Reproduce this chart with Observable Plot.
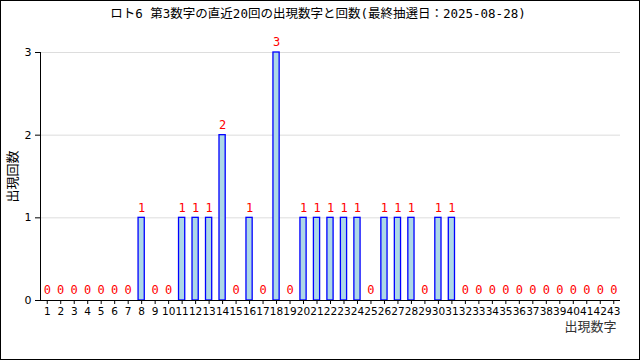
<!DOCTYPE html>
<html><head><meta charset="utf-8">
<script src="https://cdn.jsdelivr.net/npm/d3@7"></script>
<script src="https://cdn.jsdelivr.net/npm/@observablehq/plot@0.6"></script>
<style>
html,body{margin:0;padding:0;background:#fff;}
#wrap{position:relative;width:640px;height:360px;overflow:hidden;}
#border{position:absolute;left:0;top:0;width:638px;height:358px;border:1px solid #000;pointer-events:none;}
#title{position:absolute;left:0;top:3px;width:636px;text-align:center;font:12.5px "DejaVu Sans Mono","Noto Sans CJK JP",monospace;color:#000;white-space:nowrap;}
#chart{position:absolute;left:0;top:0;}
</style></head>
<body><div id="wrap"><div id="chart"></div><div id="title"></div><div id="border"></div></div>
<script>
const titleText = "ロト6 第3数字の直近20回の出現数字と回数(最終抽選日：2025-08-28)";
const numbers = d3.range(1, 44);
const counts = [0,0,0,0,0,0,0,1,0,0,1,1,1,2,0,1,0,3,0,1,1,1,1,1,0,1,1,1,0,1,1,0,0,0,0,0,0,0,0,0,0,0,0];
const yTicks = [0,1,2,3];
const yLabel = "出現回数";
const xLabel = "出現数字";
const barHalfWidth = 0.23;

const data = numbers.map((n,i)=>({n, c: counts[i]}));
document.getElementById("title").textContent = titleText;

const chart = Plot.plot({
  width: 640, height: 360,
  marginTop: 52, marginBottom: 60, marginLeft: 40, marginRight: 20,
  style: {fontFamily: "DejaVu Sans", fontSize: "11px", color: "#000", background: "transparent"},
  x: {type: "linear", domain: [0.5, 43.5], label: null},
  y: {domain: [0, 3], label: null},
  marks: [
    Plot.gridY(yTicks.filter(d=>d>0), {stroke: "#ddd", strokeOpacity: 1, strokeWidth: 1}),
    Plot.rectY(data.filter(d=>d.c>0), {x1: d=>d.n-barHalfWidth, x2: d=>d.n+barHalfWidth, y1: 0, y2: "c", fill: "lightblue", stroke: "blue", strokeWidth: 1.3}),
    Plot.text(data, {x: "n", y: "c", text: d=>String(d.c), dy: -10, fill: "red", fontSize: 12, fontFamily: "DejaVu Sans Mono"}),
    Plot.ruleY([0], {stroke: "#000"}),
    Plot.axisX({ticks: numbers, tickFormat: "d", tickSize: 4, tickPadding: 3, fontSize: 10.5, fontFamily: "DejaVu Sans", letterSpacing: "-0.6px", label: null}),
    Plot.axisY({ticks: yTicks, tickFormat: "d", tickSize: 5, tickPadding: 4, fontSize: 11, fontFamily: "DejaVu Sans", label: null}),
    Plot.frame({anchor: "left", stroke: "#000"}),
    Plot.text([yLabel], {frameAnchor: "left", dx: -28, textAnchor: "middle", rotate: -90, fontSize: 13, fontFamily: "Noto Sans CJK JP", fill: "#000"}),
    Plot.text([xLabel], {frameAnchor: "bottom-right", dy: 30, dx: -4, textAnchor: "end", fontSize: 13, fontFamily: "Noto Sans CJK JP", fill: "#333"})
  ]
});
document.getElementById("chart").appendChild(chart);
</script></body></html>
